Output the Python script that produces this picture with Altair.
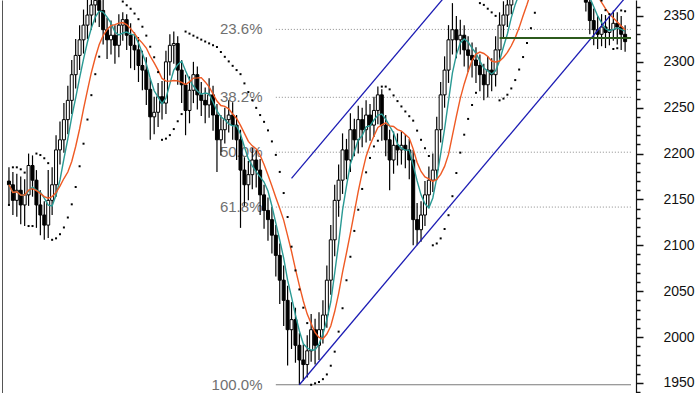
import altair as alt
import pandas as pd

# Daily candles: close, high and low per session (open = previous close)
first_open = 2170
close = [
    2166, 2149, 2160, 2144, 2155, 2187, 2171, 2144, 2133, 2122,
    2149, 2166, 2204, 2215, 2237, 2258, 2286, 2307, 2324, 2340,
    2351, 2362, 2367, 2356, 2335, 2324, 2329, 2318, 2340, 2346,
    2329, 2318, 2313, 2296, 2291, 2270, 2240, 2245, 2262, 2255,
    2300, 2318, 2320, 2291, 2275, 2247, 2269, 2286, 2264, 2258,
    2253, 2264, 2242, 2215, 2226, 2237, 2242, 2231, 2215, 2182,
    2166, 2177, 2193, 2182, 2155, 2138, 2128, 2111, 2089, 2062,
    2040, 2008, 2019, 1991, 1975, 1970, 1985, 2008, 1991, 2008,
    2024, 2062, 2106, 2149, 2171, 2204, 2193, 2226, 2215, 2237,
    2226, 2242, 2231, 2247, 2264, 2231, 2215, 2193, 2209, 2204,
    2209, 2204, 2193, 2128, 2117, 2133, 2155, 2171, 2182, 2226,
    2264, 2291, 2324, 2335, 2324, 2329, 2313, 2307, 2302, 2296,
    2286, 2275, 2291, 2286, 2313, 2340, 2351, 2362, 2375, 2385,
    2395, 2405, 2412, 2420, 2430, 2438, 2445, 2450, 2440, 2430,
    2420, 2410, 2400, 2395, 2385, 2380, 2375, 2365, 2345, 2335,
    2330, 2338, 2332, 2335, 2342, 2338, 2330, 2322,
]
high = [
    2185, 2180, 2178, 2175, 2172, 2200, 2198, 2182, 2160, 2148,
    2182, 2185, 2220, 2235, 2255, 2274, 2302, 2325, 2340, 2357,
    2370, 2378, 2382, 2378, 2368, 2348, 2345, 2340, 2352, 2354,
    2352, 2342, 2332, 2327, 2312, 2305, 2282, 2262, 2277, 2279,
    2312, 2330, 2333, 2328, 2302, 2286, 2284, 2300, 2295, 2278,
    2272, 2282, 2274, 2254, 2242, 2250, 2258, 2256, 2242, 2226,
    2196, 2192, 2206, 2204, 2194, 2166, 2152, 2142, 2122, 2102,
    2078, 2056, 2038, 2032, 2004, 1992, 2002, 2025, 2020, 2027,
    2040, 2078, 2122, 2166, 2188, 2222, 2216, 2244, 2238, 2252,
    2250, 2258, 2254, 2262, 2273, 2270, 2242, 2226, 2224, 2222,
    2224, 2221, 2216, 2204, 2146, 2148, 2170, 2186, 2200, 2240,
    2278, 2306, 2340, 2364, 2350, 2346, 2340, 2328, 2321, 2316,
    2308, 2298, 2306, 2304, 2328, 2354, 2366, 2378, 2385, 2395,
    2405, 2414, 2422, 2430, 2438, 2446, 2452, 2455, 2454, 2448,
    2436, 2428, 2418, 2408, 2402, 2392, 2388, 2382, 2375, 2358,
    2350, 2352, 2351, 2350, 2356, 2354, 2350, 2340,
]
low = [
    2144, 2133, 2131, 2123, 2121, 2143, 2153, 2119, 2111, 2106,
    2108, 2133, 2153, 2188, 2201, 2221, 2243, 2271, 2291, 2309,
    2325, 2335, 2343, 2338, 2319, 2303, 2308, 2298, 2305, 2323,
    2313, 2293, 2291, 2278, 2269, 2253, 2215, 2221, 2229, 2237,
    2243, 2285, 2298, 2275, 2255, 2220, 2233, 2255, 2248, 2241,
    2233, 2239, 2225, 2180, 2198, 2211, 2223, 2215, 2193, 2119,
    2143, 2149, 2161, 2163, 2133, 2118, 2105, 2091, 2066, 2036,
    2012, 1969, 1987, 1972, 1948, 1952, 1956, 1973, 1970, 1975,
    1993, 2010, 2046, 2088, 2131, 2156, 2172, 2180, 2197, 2200,
    2207, 2212, 2214, 2218, 2232, 2214, 2197, 2160, 2178, 2187,
    2188, 2184, 2172, 2100, 2100, 2104, 2121, 2141, 2158, 2171,
    2212, 2250, 2277, 2308, 2304, 2308, 2295, 2289, 2283, 2277,
    2268, 2258, 2261, 2268, 2273, 2301, 2327, 2338, 2352, 2370,
    2378, 2388, 2398, 2405, 2412, 2422, 2430, 2436, 2430, 2420,
    2410, 2400, 2390, 2385, 2378, 2372, 2369, 2355, 2330, 2318,
    2314, 2317, 2315, 2318, 2323, 2319, 2313, 2311,
]

# Fibonacci retracement of the swing 1948 -> 2455
swing_high = 2455
swing_low = 1948
fib_names = ["23.6%", "38.2%", "50.0%", "61.8%", "100.0%"]
fib_ratios = [0.236, 0.382, 0.5, 0.618, 1.0]
fib_from_bar = 68
fib_label_bar = 64.6

# Rising channel (bar, price) and the horizontal support
channel_lower = [(74, 1948), (160, 2385)]
channel_upper = [(72, 2173), (115, 2391)]
support_price = 2326
support_from_bar = 125

last_slot = 158.5
n = len(close)
opens = [first_open] + close[:-1]


def parabolic_sar(hi, lo, af_start=0.02, af_step=0.02, af_max=0.2):
    out = [lo[0]]
    rising = True
    af = af_start
    ep = hi[0]
    sar = lo[0]
    for i in range(1, len(hi)):
        sar = sar + af * (ep - sar)
        if rising:
            sar = min(sar, lo[i - 1], lo[max(i - 2, 0)])
            if lo[i] < sar:
                rising, sar, ep, af = False, ep, lo[i], af_start
            elif hi[i] > ep:
                ep, af = hi[i], min(af + af_step, af_max)
        else:
            sar = max(sar, hi[i - 1], hi[max(i - 2, 0)])
            if hi[i] > sar:
                rising, sar, ep, af = True, ep, hi[i], af_start
            elif lo[i] < ep:
                ep, af = lo[i], min(af + af_step, af_max)
        out.append(sar)
    return out


bars = pd.DataFrame({
    "bar": list(range(n)),
    "open": opens,
    "high": high,
    "low": low,
    "close": close,
    "sar": parabolic_sar(high, low),
})
bars["up"] = bars["close"] >= bars["open"]

fib = pd.DataFrame({
    "name": fib_names,
    "price": [swing_high - r * (swing_high - swing_low) for r in fib_ratios],
    "start": fib_from_bar,
    "end": last_slot,
    "label_at": fib_label_bar,
    "solid": [r == 1.0 for r in fib_ratios],
})

channels = pd.DataFrame(
    [{"line": "lower", "bar": b, "price": p} for b, p in channel_lower]
    + [{"line": "upper", "bar": b, "price": p} for b, p in channel_upper]
)
support = pd.DataFrame({"price": [support_price], "start": [support_from_bar], "end": [last_slot]})

xs = alt.Scale(domain=[-0.5, last_slot], nice=False, zero=False)
ys = alt.Scale(domain=[1939, 2367.4], nice=False, zero=False)
FONT = "Liberation Sans"

right_axis = alt.Axis(
    orient="right",
    values=list(range(1940, 2370, 10)),
    format="d",
    labelExpr="datum.value % 50 === 0 ? datum.label : ''",
    tickSize={"condition": {"test": "datum.value % 50 === 0", "value": 7}, "value": 4},
    tickColor="#111",
    tickWidth=1.5,
    domainColor="#111",
    domainWidth=1.2,
    labelFont=FONT,
    labelFontSize=14,
    labelColor="#111",
    labelAlign="left",
    labelPadding=20,
    grid=False,
    title=None,
)
left_frame = alt.Axis(
    orient="left", labels=False, ticks=False, grid=False, title=None,
    domainColor="#555", domainWidth=1,
)

base = alt.Chart(bars)
X = alt.X("bar:Q", scale=xs, axis=None)

fib_lines = alt.Chart(fib).mark_rule(clip=True, strokeWidth=1).encode(
    x=alt.X("start:Q", scale=xs, axis=None),
    x2="end:Q",
    y=alt.Y("price:Q", scale=ys, axis=left_frame),
    color=alt.condition("datum.solid", alt.value("#6e6e6e"), alt.value("#8a8a8a")),
    strokeDash=alt.condition("datum.solid", alt.value([1, 0]), alt.value([1, 2])),
)
fib_text = alt.Chart(fib).mark_text(
    align="right", baseline="middle", font=FONT, fontSize=15, color="#707070"
).encode(
    x=alt.X("label_at:Q", scale=xs, axis=None),
    y=alt.Y("price:Q", scale=ys, axis=None),
    text="name:N",
)

wicks = base.mark_rule(color="#000", strokeWidth=1.2, clip=True).encode(
    x=X, y=alt.Y("low:Q", scale=ys, axis=right_axis), y2="high:Q"
)
bodies = base.mark_bar(size=3, stroke="#000", strokeWidth=1, clip=True).encode(
    x=X,
    y=alt.Y("open:Q", scale=ys, axis=None),
    y2="close:Q",
    fill=alt.condition("datum.up", alt.value("#ffffff"), alt.value("#000000")),
)

ma_base = base.transform_window(
    ma_fast="mean(close)", frame=[-4, 0], sort=[{"field": "bar"}]
).transform_window(
    ma_slow="mean(close)", frame=[-9, 0], sort=[{"field": "bar"}]
)
ma_fast = ma_base.mark_line(color="#2a9a94", strokeWidth=1.4, clip=True).encode(
    x=X, y=alt.Y("ma_fast:Q", scale=ys, axis=None)
)
ma_slow = ma_base.mark_line(color="#ef5a24", strokeWidth=1.4, clip=True).encode(
    x=X, y=alt.Y("ma_slow:Q", scale=ys, axis=None)
)

channel = alt.Chart(channels).mark_line(color="#1c1cb4", strokeWidth=1.3, clip=True).encode(
    x=alt.X("bar:Q", scale=xs, axis=None),
    y=alt.Y("price:Q", scale=ys, axis=None),
    detail="line:N",
)
support_line = alt.Chart(support).mark_rule(color="#2c5a1c", strokeWidth=2, clip=True).encode(
    x=alt.X("start:Q", scale=xs, axis=None),
    x2="end:Q",
    y=alt.Y("price:Q", scale=ys, axis=None),
)
sar_dots = base.mark_square(size=4, color="#000", opacity=1, clip=True).encode(
    x=X, y=alt.Y("sar:Q", scale=ys, axis=None)
)

chart = alt.layer(
    fib_lines, fib_text, wicks, bodies, ma_fast, ma_slow, channel, support_line, sar_dots
).resolve_axis(y="independent").properties(
    width=634,
    height=393,
    padding={"left": 2, "top": 0, "right": 64, "bottom": 0},
    autosize=alt.AutoSizeParams(type="none"),
    background="#ffffff",
).configure_view(stroke=None)

chart.save("out.html", embed_options={"renderer": "svg", "actions": False})
